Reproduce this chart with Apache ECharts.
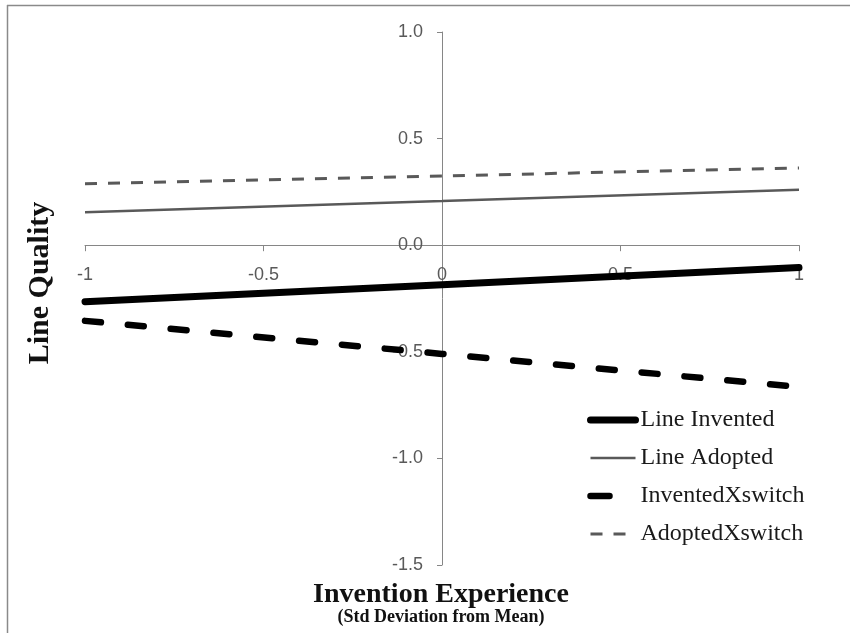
<!DOCTYPE html>
<html>
<head>
<meta charset="utf-8">
<script src="https://cdn.jsdelivr.net/npm/echarts@6/dist/echarts.min.js"></script>
<style>html,body{margin:0;padding:0;background:#fff}#c{width:850px;height:633px}</style>
</head>
<body>
<div id="c"></div>
<script>
// Data
var xValues = [-1, 0, 1];
var lineInvented = [-0.265, -0.185, -0.105];
var lineAdopted = [0.155, 0.207, 0.26];
var inventedXswitch = [-0.355, -0.51, -0.665];
var adoptedXswitch = [0.288, 0.325, 0.362];
var seriesNames = ['Line Invented', 'Line Adopted', 'InventedXswitch', 'AdoptedXswitch'];
var xTitle = 'Invention Experience';
var xSubTitle = '(Std Deviation from Mean)';
var yTitle = 'Line Quality';

function pairs(ys) { return xValues.map(function (x, i) { return [x, ys[i]]; }); }

var chart = echarts.init(document.getElementById('c'), null, { renderer: 'canvas' });
var axisGray = '#868686';
var labelGray = '#595959';
var gridLeft = 85, gridTop = 32, gridRight = 51, gridBottom = 68;
chart.setOption({
  animation: false,
  backgroundColor: '#fff',
  grid: { left: gridLeft, right: gridRight, top: gridTop, bottom: gridBottom, containLabel: false },
  xAxis: {
    type: 'value', min: -1, max: 1, interval: 0.5, position: 'bottom',
    axisLine: { onZero: false, lineStyle: { color: axisGray, width: 1 } },
    axisTick: { show: true, inside: false, length: 6, lineStyle: { color: axisGray } },
    axisLabel: { color: labelGray, fontFamily: 'Liberation Sans', fontSize: 18, margin: 21 },
    splitLine: { show: false }
  },
  yAxis: {
    type: 'value', min: -1.5, max: 1.0, interval: 0.5, position: 'left',
    axisLine: { show: true, onZero: false, lineStyle: { color: axisGray, width: 1 } },
    axisTick: { show: true, inside: false, length: 5, lineStyle: { color: axisGray } },
    axisLabel: { color: labelGray, fontFamily: 'Liberation Sans', fontSize: 18, margin: 19,
      formatter: function (v) { return v.toFixed(1); } },
    splitLine: { show: false }
  },
  legend: {
    orient: 'vertical', left: 587, top: 408, padding: 0,
    itemWidth: 45, itemHeight: 14, itemGap: 14,
    itemStyle: { opacity: 0 },
    lineStyle: { width: 'inherit' },
    textStyle: { fontFamily: 'Liberation Serif', fontSize: 24, color: '#1a1a1a' },
    data: [
      { name: seriesNames[0] },
      { name: seriesNames[1] },
      { name: seriesNames[2], lineStyle: { type: [19, 60] } },
      { name: seriesNames[3], lineStyle: { type: [12, 11, 12, 30] } }
    ]
  },
  series: [
    { name: seriesNames[0], type: 'line', data: pairs(lineInvented), symbol: 'none',
      lineStyle: { color: '#000', width: 7, cap: 'round' }, itemStyle: { color: '#000' } },
    { name: seriesNames[1], type: 'line', data: pairs(lineAdopted), symbol: 'none',
      lineStyle: { color: '#595959', width: 2.5 }, itemStyle: { color: '#595959' } },
    { name: seriesNames[2], type: 'line', data: pairs(inventedXswitch), symbol: 'none',
      lineStyle: { color: '#000', width: 6.5, type: [16, 27], cap: 'round' }, itemStyle: { color: '#000' } },
    { name: seriesNames[3], type: 'line', data: pairs(adoptedXswitch), symbol: 'none',
      lineStyle: { color: '#595959', width: 3, type: [12, 11] }, itemStyle: { color: '#595959' } }
  ],
  graphic: [
    { type: 'line', shape: { x1: 7.5, y1: 5, x2: 7.5, y2: 633 }, style: { stroke: '#8a8a8a', lineWidth: 1.5 } },
    { type: 'line', shape: { x1: 7, y1: 5.5, x2: 850, y2: 5.5 }, style: { stroke: '#8a8a8a', lineWidth: 1.5 } },
    { type: 'text', x: 441, y: 595, style: { text: xTitle, font: 'bold 28px "Liberation Serif"', fill: '#111', align: 'center', verticalAlign: 'middle' } },
    { type: 'text', x: 441, y: 617, style: { text: xSubTitle, font: 'bold 18px "Liberation Serif"', fill: '#111', align: 'center', verticalAlign: 'middle' } },
    { type: 'text', x: 40, y: 283, rotation: Math.PI / 2, style: { text: yTitle, font: 'bold 30px "Liberation Serif"', fill: '#111', align: 'center', verticalAlign: 'middle' } }
  ]
});
// Move the axes so they cross at the origin (0,0), using the library's own scales
var origin = chart.convertToPixel({ gridIndex: 0 }, [0, 0]);
var gridH = 633 - gridTop - gridBottom;
chart.setOption({
  xAxis: { offset: -((gridTop + gridH) - origin[1]) },
  yAxis: { offset: -(origin[0] - gridLeft) }
});
</script>
</body>
</html>
